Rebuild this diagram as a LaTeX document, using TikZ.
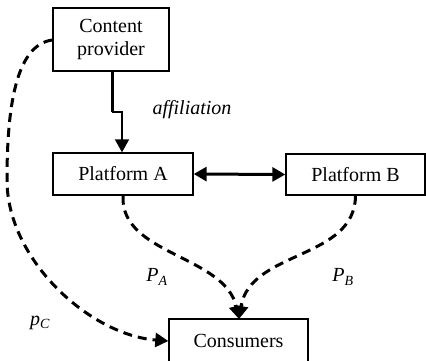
\documentclass[tikz,border=0pt]{standalone}
\usepackage{fontspec}
\setmainfont{Liberation Serif}
\usetikzlibrary{arrows.meta}
\tikzset{
  box/.style={draw, line width=1.4pt, inner sep=0pt, align=center,
    font=\fontsize{20}{23}\selectfont},
  lbl/.style={font=\fontsize{20}{23}\selectfont\itshape, inner sep=0pt},
  tip/.style={-{Triangle[length=13pt,width=14pt]}},
  dashline/.style={line width=3pt, dash pattern=on 9pt off 6pt},
}
\begin{document}
\begin{tikzpicture}[x=1pt,y=-1pt]
\useasboundingbox (0,0) rectangle (426,360);
\clip (0,0) rectangle (426,360);
\node[box, minimum width=116pt, minimum height=63pt] (cp) at (111,39.5) {Content\\provider};
\node[box, minimum width=140pt, minimum height=42pt] (pa) at (123,174) {Platform A};
\node[box, minimum width=139pt, minimum height=41pt] (pb) at (355.5,174.5) {Platform B};
\node[box, minimum width=139pt, minimum height=44pt] (cons) at (238.5,341) {Consumers};

\coordinate (j1) at (112,112);
\coordinate (j2) at (122,112);
\draw[line width=3pt] (cp.south -| j1) -- (j1);
\draw[line width=2pt, tip] (j1) -- (j2) -- (pa.north -| j2);
\node[lbl] (aff) at (192,110) {affiliation};

\draw[line width=3pt, {Triangle[length=13pt,width=14pt]}-{Triangle[length=13pt,width=14pt]}] (pa.east) -- (pb.east -| pb.west);

\coordinate (ct) at (239,319);
\draw[dashline, tip] (pa.south) .. controls (120,255) and (225,255) .. (ct);
\draw[dashline, tip] (pb.south) .. controls (355,260) and (250,250) .. (ct);

\coordinate (cl) at (7,180);
\draw[dashline, tip] (cp.west |- 0,40) .. controls (15,45) and (7,110) .. (cl)
   .. controls (7,260) and (90,335) .. (cons.west);

\node[lbl] (lpa) at (157,277) {P\textsubscript{\itshape A}};
\node[lbl] (lpb) at (343,277) {P\textsubscript{\itshape B}};
\node[lbl] (lpc) at (40,323) {p\textsubscript{\itshape C}};
\end{tikzpicture}
\end{document}
